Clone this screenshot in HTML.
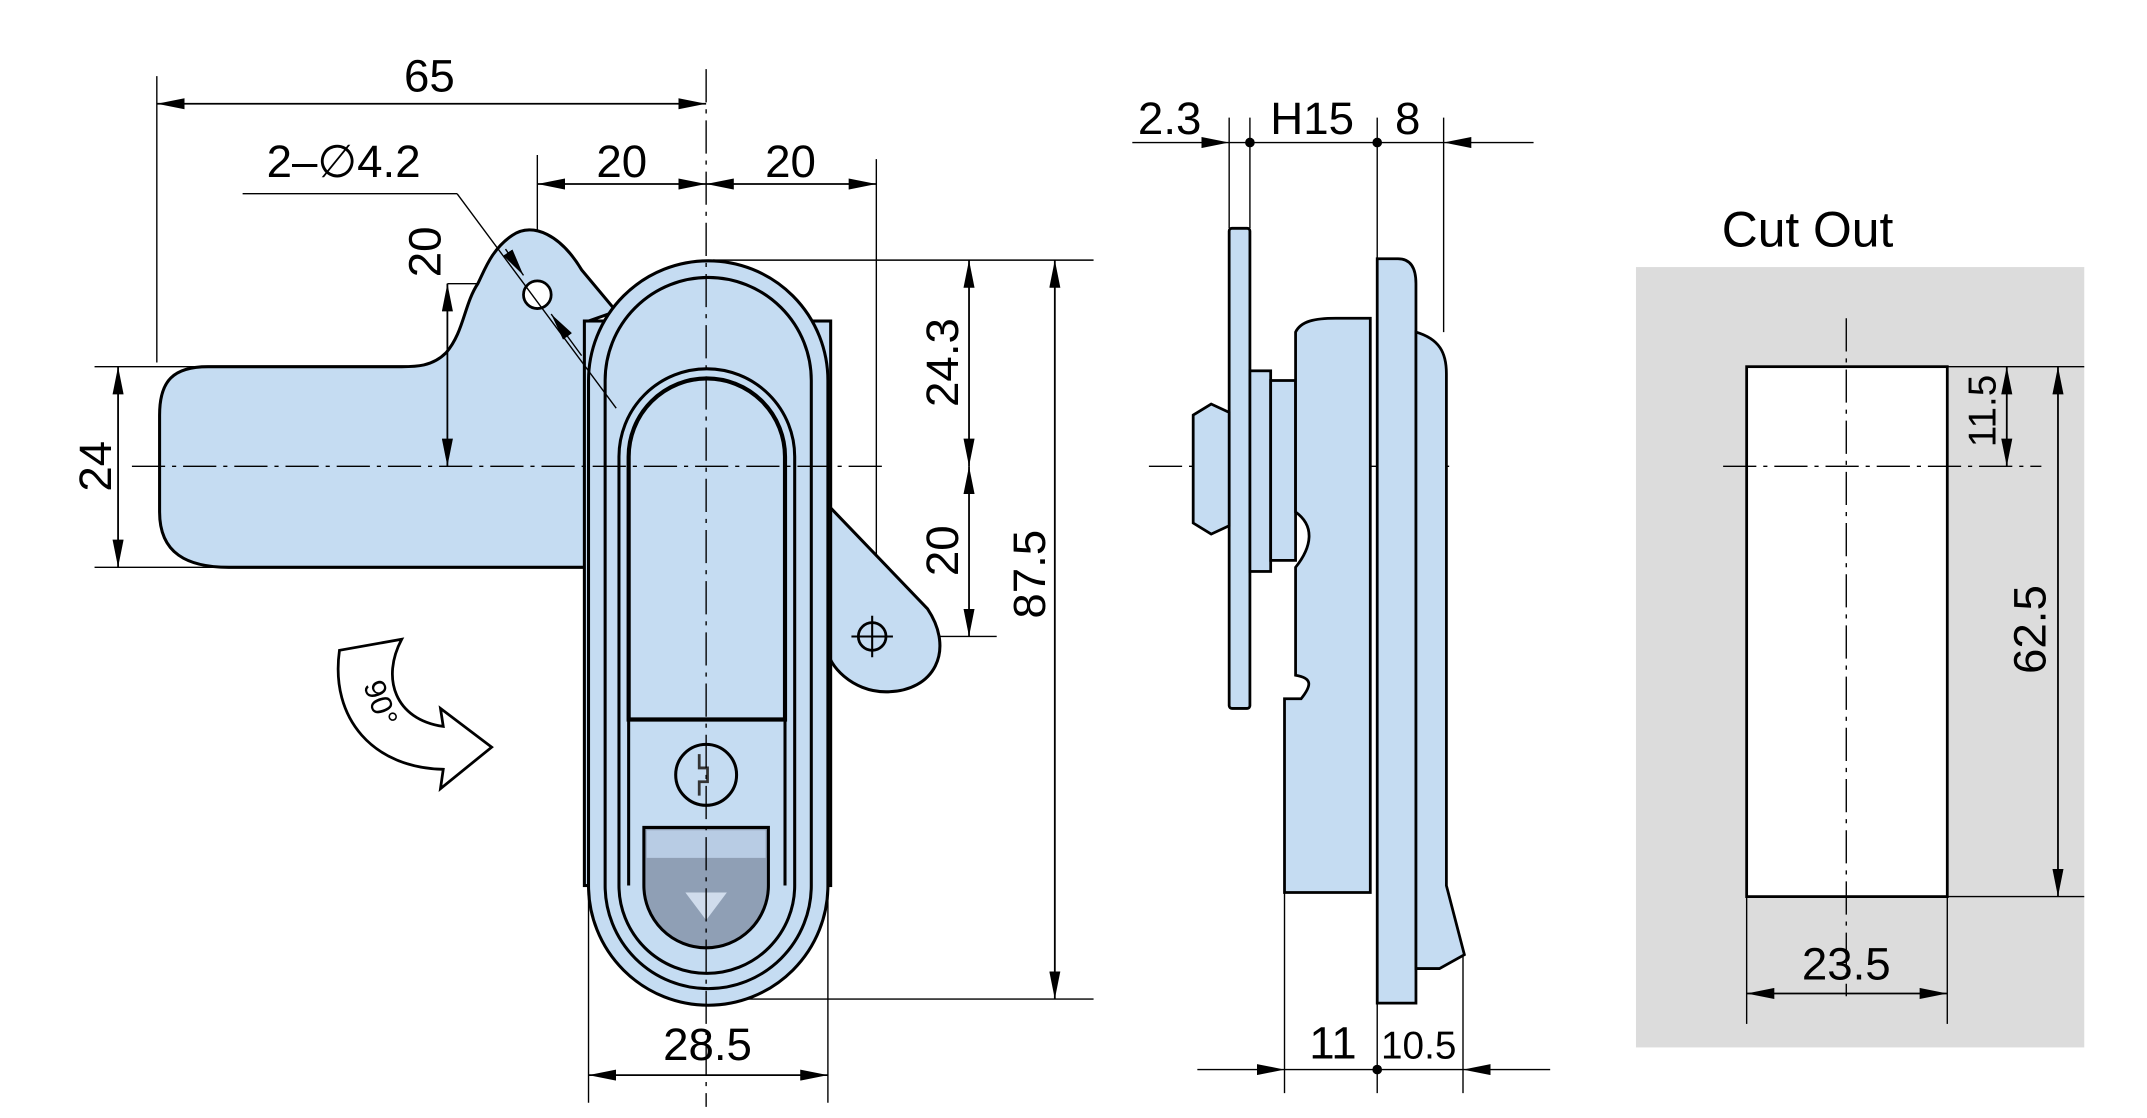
<!DOCTYPE html>
<html><head><style>html,body{margin:0;padding:0;background:#fff;}svg{display:block}</style></head>
<body>
<svg width="2147" height="1118" viewBox="0 0 1551 808" xmlns="http://www.w3.org/2000/svg" font-family="Liberation Sans, sans-serif">
<defs>
<marker id="a" viewBox="0 0 20 8" refX="20" refY="4" markerWidth="20" markerHeight="8" orient="auto-start-reverse" markerUnits="userSpaceOnUse"><path d="M0,0L20,4L0,8z" fill="#000"/></marker>
</defs>
<g stroke="#000" stroke-width="1" fill="none">
<line x1="113" y1="55" x2="113" y2="262"/>
<line x1="388" y1="112" x2="388" y2="210"/>
<line x1="633" y1="115" x2="633" y2="460"/>
<line x1="323" y1="205" x2="388" y2="205"/>
<line x1="68" y1="265" x2="150" y2="265"/>
<line x1="68" y1="410" x2="190" y2="410"/>
<line x1="515" y1="188" x2="790" y2="188"/>
<line x1="640" y1="460" x2="720" y2="460"/>
<line x1="515" y1="722" x2="790" y2="722"/>
<line x1="425" y1="640" x2="425" y2="797"/>
<line x1="598" y1="640" x2="598" y2="797"/>
</g>
<g stroke="#000" stroke-width="2.2" fill="#c5dcf2">
<path d="M425,232 L445,225 L420,195 C405,170 385,160 370,170 C355,180 350,195 345,205 C335,220 335,240 322,255 C312,265 300,265 290,265 L150,265 C125,265 115,275 115,300 L115,370 C115,400 135,410 165,410 L425,410 Z"/>
<path d="M598,365 L670,440 C690,470 675,500 640,500 C615,500 598,480 598,470 Z"/>
<rect x="422" y="232" width="178" height="408"/>
<path d="M425,275 A86.5,86.5 0 0 1 598,275 L598,640 A86.5,86.5 0 0 1 425,640 Z"/>
<path d="M437,275 A74.5,74.5 0 0 1 586,275 L586,640 A74.5,74.5 0 0 1 437,640 Z"/>
<path d="M447,330 A63.5,63.5 0 0 1 574,330 L574,640 A63.5,63.5 0 0 1 447,640 Z"/>
<path d="M454,330 A56.5,56.5 0 0 1 567,330 L567,520 L454,520 Z" stroke-width="3"/>
<line x1="454" y1="520" x2="567" y2="520"/>
<line x1="454" y1="330" x2="454" y2="640"/>
<line x1="567" y1="330" x2="567" y2="640"/>
<circle cx="510" cy="560" r="22" fill="#c5dcf2"/>
<path d="M465,598 L555,598 L555,640 A45,45 0 0 1 465,640 Z" fill="#8f9fb5"/>
</g>
<path d="M467,600 L553,600 L553,620 L467,620 Z" fill="#b8cce4"/>
<path d="M495,645 L525,645 L510,665 Z" fill="#d0dcec"/>
<path d="M505,545 v10 h6 v10 h-6 v10" stroke="#333" stroke-width="2" fill="none"/>
<circle cx="388" cy="213" r="10" fill="#fff" stroke="#000" stroke-width="2"/>
<circle cx="630" cy="460" r="10" fill="none" stroke="#000" stroke-width="2"/>
<line x1="615" y1="460" x2="645" y2="460" stroke="#000" stroke-width="1.5"/>
<line x1="630" y1="445" x2="630" y2="475" stroke="#000" stroke-width="1.5"/>
<g stroke="#000" stroke-width="1" stroke-dasharray="24,5,3,5" fill="none">
<line x1="95" y1="337" x2="640" y2="337"/>
<line x1="510" y1="50" x2="510" y2="800"/>
<line x1="830" y1="337" x2="1050" y2="337"/>
<line x1="1334" y1="230" x2="1334" y2="720"/>
<line x1="1245" y1="337" x2="1475" y2="337"/>
</g>
<g stroke="#000" stroke-width="1" fill="none">
<line x1="175" y1="140" x2="330" y2="140"/>
<line x1="330" y1="140" x2="445" y2="295"/>
<line x1="365" y1="180" x2="378" y2="199" marker-end="url(#a)"/>
<line x1="420" y1="257" x2="398" y2="227" marker-end="url(#a)"/>
</g>
<g stroke="#000" stroke-width="1.3" fill="none">
<line x1="113" y1="75" x2="510" y2="75" marker-start="url(#a)" marker-end="url(#a)"/>
<line x1="388" y1="133" x2="510" y2="133" marker-start="url(#a)" marker-end="url(#a)"/>
<line x1="510" y1="133" x2="633" y2="133" marker-start="url(#a)" marker-end="url(#a)"/>
<line x1="323" y1="205" x2="323" y2="337" marker-start="url(#a)" marker-end="url(#a)"/>
<line x1="85" y1="265" x2="85" y2="410" marker-start="url(#a)" marker-end="url(#a)"/>
<line x1="700" y1="188" x2="700" y2="337" marker-start="url(#a)" marker-end="url(#a)"/>
<line x1="700" y1="337" x2="700" y2="460" marker-start="url(#a)" marker-end="url(#a)"/>
<line x1="762" y1="188" x2="762" y2="722" marker-start="url(#a)" marker-end="url(#a)"/>
<line x1="425" y1="777" x2="598" y2="777" marker-start="url(#a)" marker-end="url(#a)"/>
</g>
<path d="M245,470 L290,462 C275,490 285,520 320,525 L318,512 L355,540 L318,570 L320,556 C270,555 238,520 245,470 Z" fill="#fff" stroke="#000" stroke-width="2"/>
<text x="0" y="0" font-size="22" transform="translate(262,495) rotate(70)">90°</text>
<g font-size="33" fill="#000" text-anchor="middle">
<text x="310" y="66">65</text>
<text x="248" y="128">2–∅4.2</text>
<text x="449" y="128">20</text>
<text x="571" y="128">20</text>
<text transform="translate(318,182) rotate(-90)">20</text>
<text transform="translate(80,337) rotate(-90)">24</text>
<text transform="translate(692,262) rotate(-90)">24.3</text>
<text transform="translate(692,398) rotate(-90)">20</text>
<text transform="translate(755,415) rotate(-90)">87.5</text>
<text x="511" y="766">28.5</text>
</g>
<g stroke="#000" stroke-width="1" fill="none">
<line x1="888" y1="85" x2="888" y2="165"/>
<line x1="903" y1="85" x2="903" y2="165"/>
<line x1="995" y1="85" x2="995" y2="790"/>
<line x1="1043" y1="85" x2="1043" y2="240"/>
<line x1="928" y1="645" x2="928" y2="790"/>
<line x1="1057" y1="690" x2="1057" y2="790"/>
<line x1="818" y1="103" x2="888" y2="103" marker-end="url(#a)"/>
<line x1="888" y1="103" x2="1043" y2="103"/>
<line x1="1108" y1="103" x2="1043" y2="103" marker-end="url(#a)"/>
<line x1="865" y1="773" x2="928" y2="773" marker-end="url(#a)"/>
<line x1="928" y1="773" x2="1057" y2="773"/>
<line x1="1120" y1="773" x2="1057" y2="773" marker-end="url(#a)"/>
</g>
<circle cx="903" cy="103" r="3.5"/><circle cx="995" cy="103" r="3.5"/><circle cx="995" cy="773" r="3.5"/>
<g stroke="#000" stroke-width="2" fill="#c5dcf2">
<rect x="888" y="165" width="15" height="347" rx="2"/>
<rect x="903" y="268" width="15" height="145"/>
<rect x="918" y="275" width="18" height="130"/>
<path d="M862,300 L875,292 L888,298 L888,380 L875,386 L862,378 Z"/>
<path d="M936,240 C940,232 950,230 965,230 L990,230 L990,645 L928,645 L928,505 L940,505 C948,495 948,490 936,488 L936,410 C948,395 950,380 936,370 Z"/>
<path d="M995,187 L1010,187 C1020,187 1023,195 1023,205 L1023,725 L995,725 Z"/>
<path d="M1023,240 C1040,245 1045,255 1045,270 L1045,640 L1058,690 L1040,700 L1023,700 Z"/>
</g>
<g font-size="33" fill="#000" text-anchor="middle">
<text x="845" y="97">2.3</text>
<text x="948" y="97">H15</text>
<text x="1017" y="97">8</text>
<text x="963" y="765">11</text>
<text x="1025" y="765" font-size="28">10.5</text>
</g>
<text x="1306" y="178" font-size="36" text-anchor="middle">Cut Out</text>
<rect x="1182" y="193" width="324" height="564" fill="#dcdcdc"/>
<rect x="1262" y="265" width="145" height="383" fill="#fff" stroke="#000" stroke-width="2"/>
<g stroke="#000" stroke-width="1" fill="none">
<line x1="1245" y1="337" x2="1475" y2="337" stroke-dasharray="24,5,3,5"/>
<line x1="1334" y1="230" x2="1334" y2="720" stroke-dasharray="24,5,3,5"/>
<line x1="1407" y1="265" x2="1506" y2="265"/>
<line x1="1407" y1="648" x2="1506" y2="648"/>
<line x1="1262" y1="648" x2="1262" y2="740"/>
<line x1="1407" y1="648" x2="1407" y2="740"/>
<line x1="1450" y1="265" x2="1450" y2="337" stroke-width="1.3" marker-start="url(#a)" marker-end="url(#a)"/>
<line x1="1487" y1="265" x2="1487" y2="648" stroke-width="1.3" marker-start="url(#a)" marker-end="url(#a)"/>
<line x1="1262" y1="718" x2="1407" y2="718" stroke-width="1.3" marker-start="url(#a)" marker-end="url(#a)"/>
</g>
<g font-size="33" fill="#000" text-anchor="middle">
<text transform="translate(1442,297) rotate(-90)" font-size="28">11.5</text>
<text transform="translate(1478,455) rotate(-90)">62.5</text>
<text x="1334" y="708">23.5</text>
</g>
</svg>
</body></html>
